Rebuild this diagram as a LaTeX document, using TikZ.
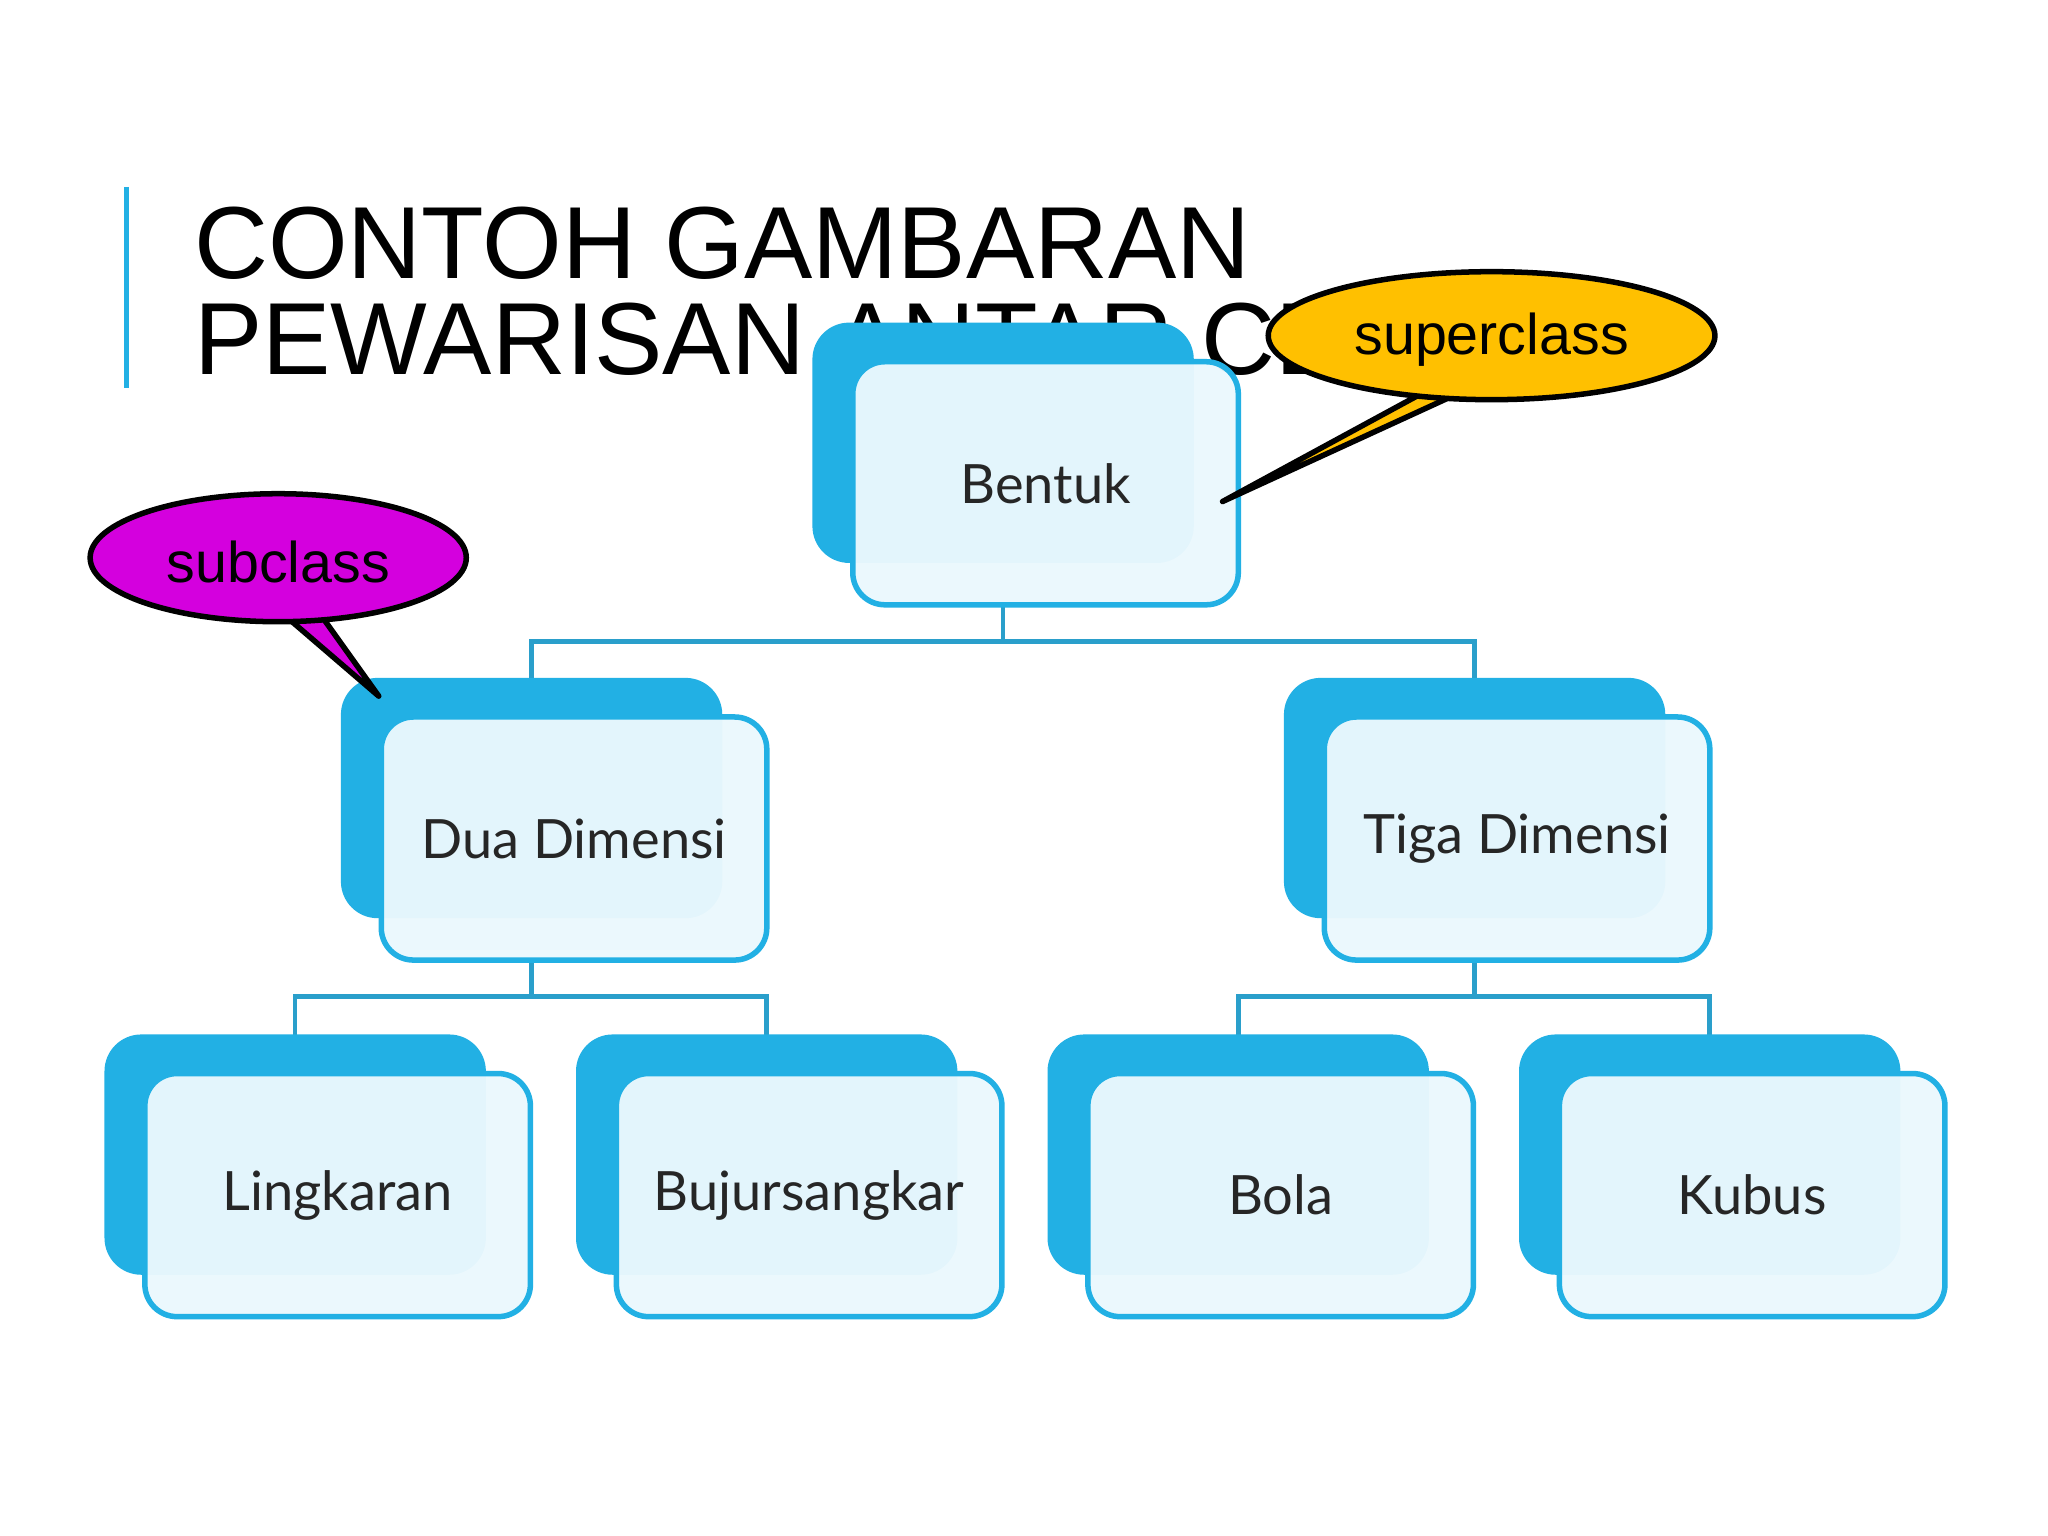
\documentclass[tikz,border=0pt]{standalone}
\usepackage{fontspec}
\setmainfont{Liberation Sans}
\newfontfamily\boxfont{Lato}
\definecolor{bblue}{HTML}{22B0E4}
\definecolor{lblue}{HTML}{EBF8FD}
\definecolor{lineblue}{HTML}{2A9FCB}
\definecolor{gold}{HTML}{FFC000}
\definecolor{magent}{HTML}{D400DE}
\pgfdeclarelayer{bg}
\pgfsetlayers{bg,main}
\tikzset{
 backbox/.style={fill=bblue,rounded corners=8pt,draw=none},
 frontbox/.style={draw=bblue,line width=1.2pt,fill=lblue,fill opacity=0.96,text opacity=1,rounded corners=7pt,minimum width=2.95cm,minimum height=1.86cm,font=\boxfont\fontsize{11.8}{14}\selectfont,text=black!85,inner sep=0pt},
 conn/.style={draw=lineblue,line width=1pt},
 callout/.style={draw=black,line width=1.2pt},
}
\begin{document}
\begin{tikzpicture}[x=0.01cm,y=-0.01cm]
\useasboundingbox (0,0) rectangle (1568,1176);
\begin{pgfonlayer}{bg}
\fill[white] (0,0) rectangle (1568,1176);
\end{pgfonlayer}
\draw[bblue,line width=1pt] (97,143) -- (97,297);
\node[anchor=base west,inner sep=0pt,font=\fontsize{22.3}{24}\selectfont] (t1) at (148,213) {CONTOH GAMBARAN};
\node[anchor=base west,inner sep=0pt,font=\fontsize{22.3}{24}\selectfont] (t2) at (148,287) {PEWARISAN ANTAR CLASS};
% boxes
\newcommand{\shapebox}[4]{% name, back x, back y, text
 \fill[backbox] (#2,#3) rectangle ++(292,184);
 \coordinate (#1top) at (#2+146,#3+31);
 \coordinate (#1bot) at (#2+146,#3+217);
 \node[frontbox] (#1) at (#2+31+147.5,#3+30+93) {#4};}
\shapebox{bentuk}{622}{247}{Bentuk}
\shapebox{dua}{261}{519}{Dua Dimensi}
\shapebox{tiga}{983}{519}{Tiga Dimensi}
\shapebox{ling}{80}{792}{Lingkaran}
\shapebox{buj}{441}{792}{Bujursangkar}
\shapebox{bola}{802}{792}{Bola}
\shapebox{kubus}{1163}{792}{Kubus}
% connectors (behind boxes)
\begin{pgfonlayer}{bg}
\draw[conn] (bentukbot) -- ++(0,27) coordinate (j1);
\draw[conn] (j1) -| (duatop);
\draw[conn] (j1) -| (tigatop);
\draw[conn] (duabot) -- ++(0,27) coordinate (j2);
\draw[conn] (j2) -| (lingtop);
\draw[conn] (j2) -| (bujtop);
\draw[conn] (tigabot) -- ++(0,27) coordinate (j3);
\draw[conn] (j3) -| (bolatop);
\draw[conn] (j3) -| (kubustop);
\end{pgfonlayer}
% callouts
\coordinate (sp) at (936,384);
\draw[callout,fill=gold,line join=round] (1100,295) -- (sp) -- (1130,295) -- cycle;
\draw[callout,fill=gold] (1142,257) ellipse [x radius=171,y radius=49];
\node[font=\fontsize{12.5}{14}\selectfont] (sup) at (1142,260) {superclass};
\coordinate (sb) at (290,533);
\draw[callout,fill=magent,line join=round] (212,466) -- (sb) -- (240,463) -- cycle;
\draw[callout,fill=magent] (213,427) ellipse [x radius=144,y radius=49];
\node[font=\fontsize{12.5}{14}\selectfont] (sub) at (213,430) {subclass};
\end{tikzpicture}
\end{document}
